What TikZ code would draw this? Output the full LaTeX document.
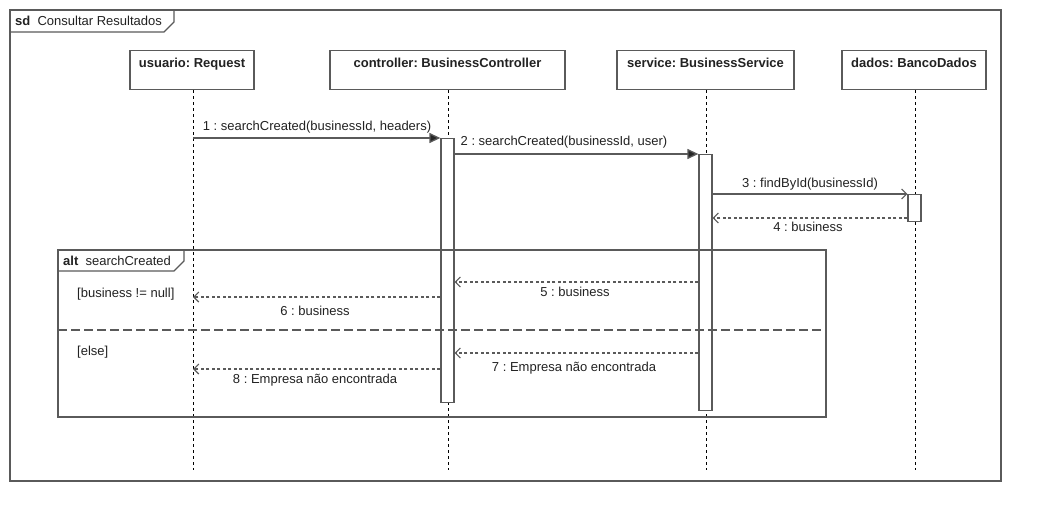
\documentclass[tikz,border=0pt]{standalone}
\usepackage{fontspec}
\setmainfont{Liberation Sans}
\usetikzlibrary{arrows.meta}
\definecolor{ln}{HTML}{5A5A5A}
\definecolor{tx}{HTML}{222222}
\frenchspacing
\begin{document}
\begin{tikzpicture}[x=1pt,y=-1pt,
  font=\fontsize{13}{15}\selectfont,
  frame/.style={draw=ln, line width=1.3pt},
  part/.style={draw=ln, line width=1.3pt, fill=white, font=\fontsize{13}{15}\selectfont\bfseries, text=tx,
    inner xsep=2pt, inner ysep=5pt, text height=12pt, text depth=17pt, anchor=north},
  life/.style={draw=black, line width=0.8pt, dash pattern=on 3pt off 3pt},
  act/.style={draw=ln, line width=1.3pt, fill=white, inner sep=0pt, minimum width=13pt, anchor=north},
  call/.style={draw=ln, line width=1.3pt, -{Triangle[length=11pt,width=10pt,fill=black!85]}},
  async/.style={draw=ln, line width=1.3pt, -{Straight Barb[length=5pt,width=10pt,line width=1.1pt]}},
  ret/.style={draw=ln, line width=1.1pt, dash pattern=on 3pt off 2.5pt, -{Straight Barb[length=5pt,width=10pt,line width=1.1pt]}},
  lbl/.style={inner sep=0pt, text=tx},
  divider/.style={draw=ln, line width=1.3pt, dash pattern=on 9pt off 4pt},
]
\useasboundingbox[fill=white] (0,0) rectangle (1042,522);

% outer frame
\draw[frame] (10,10) rectangle (1001,481);
\draw[frame] (10,32) -- (164,32) -- (174,22) -- (174,10);
\node[lbl, anchor=base west] (sdlbl) at (15,25) {\textbf{sd}\ \ Consultar Resultados};

% participants
\node[part, minimum width=124pt] (u) at (192,50) {usuario: Request};
\node[part, minimum width=235pt] (c) at (447.5,50) {controller: BusinessController};
\node[part, minimum width=177pt] (s) at (705.5,50) {service: BusinessService};
\node[part, minimum width=144pt] (d) at (914,50) {dados: BancoDados};

% lifeline ends
\coordinate (ue) at (193,470);
\coordinate (ce) at (448,470);
\coordinate (se) at (706,470);
\coordinate (de) at (915,470);
\draw[life] (u.south -| ue) -- (ue);
\draw[life] (c.south -| ce) -- (ce);
\draw[life] (s.south -| se) -- (se);
\draw[life] (d.south -| de) -- (de);

% activations
\node[act, minimum height=264pt] (ca) at (447.5,138) {};
\node[act, minimum height=256pt] (sa) at (705.5,154) {};
\node[act, minimum height=27pt] (da) at (914.5,194) {};

% alt fragment
\draw[frame] (58,250) rectangle (826,417);
\draw[frame] (58,271) -- (174,271) -- (184,261) -- (184,250);
\node[lbl, anchor=base west] (altlbl) at (63,265) {\textbf{alt}\ \ searchCreated};
\draw[divider] (58,330) -- (826,330);
\node[lbl, anchor=west] (g1) at (77,294) {[business != null]};
\node[lbl, anchor=west] (g2) at (77,352) {[else]};

% lifeline points
\coordinate (u1) at (193,138);
\coordinate (u6) at (193,297);
\coordinate (u8) at (193,369);

% messages
\draw[call] (u1) -- (u1 -| ca.west);
\node[lbl] (m1) at (317,127) {1 : searchCreated(businessId, headers)};
\draw[call] (ca.east |- sa.north) -- (sa.north west);
\node[lbl] (m2) at (564,142) {2 : searchCreated(businessId, user)};
\draw[async] (sa.east |- da.north) -- (da.north west);
\node[lbl] (m3) at (810,184) {3 : findById(businessId)};
\draw[ret] (da.west |- 0,218) -- (sa.east |- 0,218);
\node[lbl] (m4) at (808,227) {4 : business};
\draw[ret] (sa.west |- 0,282) -- (ca.east |- 0,282);
\node[lbl] (m5) at (575,292) {5 : business};
\draw[ret] (ca.west |- u6) -- (u6);
\node[lbl] (m6) at (315,311) {6 : business};
\draw[ret] (sa.west |- 0,353) -- (ca.east |- 0,353);
\node[lbl] (m7) at (574,368) {7 : Empresa não encontrada};
\draw[ret] (ca.west |- u8) -- (u8);
\node[lbl] (m8) at (315,380) {8 : Empresa não encontrada};
\end{tikzpicture}
\end{document}
